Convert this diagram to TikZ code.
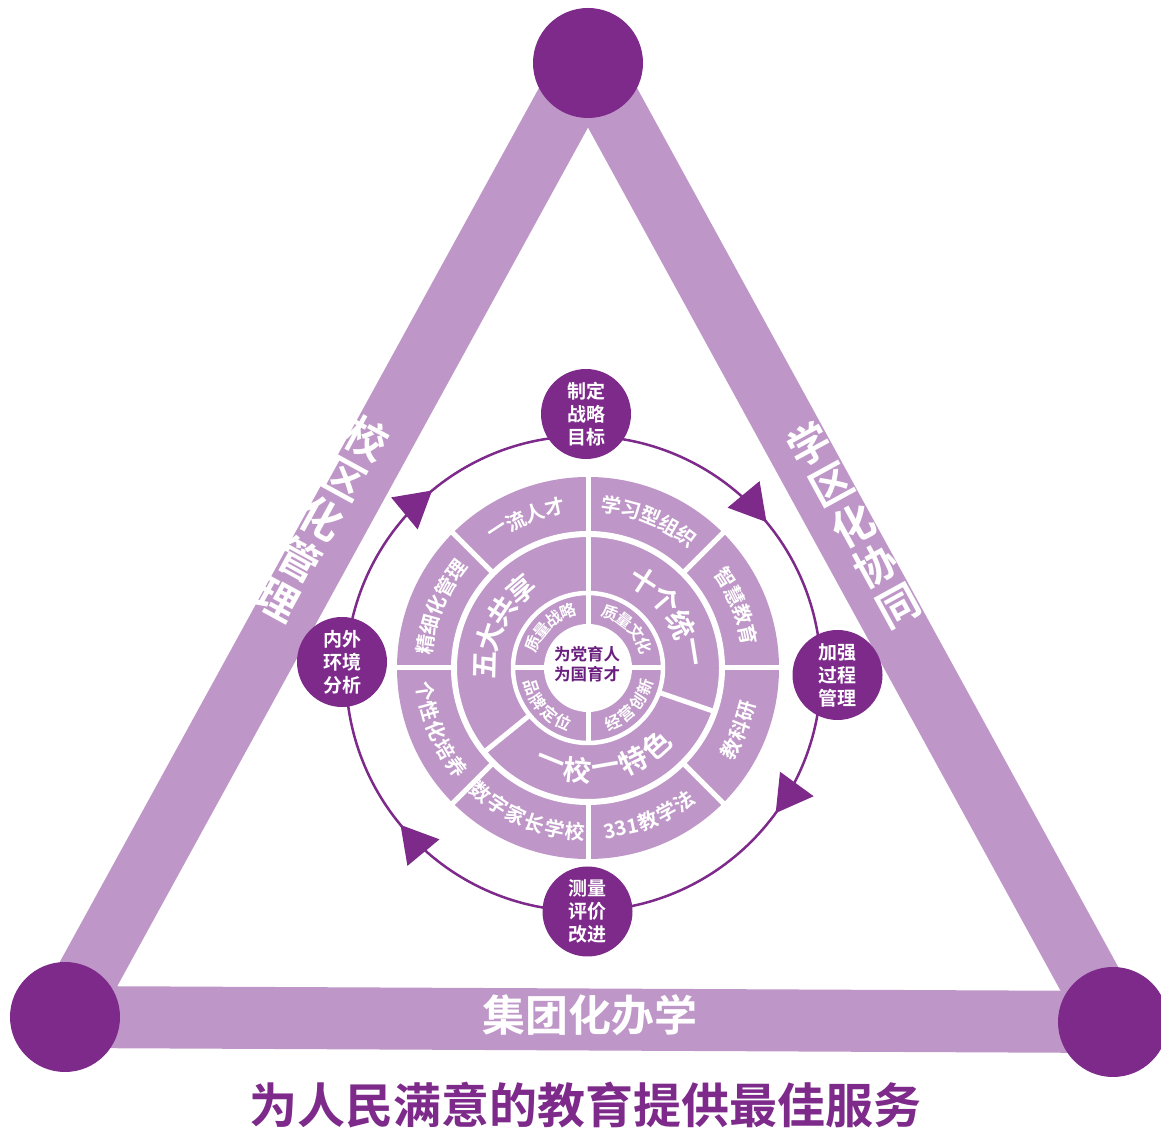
\documentclass[tikz,border=0pt]{standalone}
\usepackage{fontspec}
\setmainfont{Noto Sans CJK SC}[BoldFont={Noto Sans CJK SC Bold}]
\usetikzlibrary{arrows.meta,decorations.markings}

\definecolor{lilac}{HTML}{BE96C7}
\definecolor{plum}{HTML}{7D2A8B}
\definecolor{plumtext}{HTML}{6A1F7E}

\tikzstyle{apex}=[circle, fill=plum, minimum size=110pt, inner sep=0pt]
\tikzstyle{band}=[line width=62pt, lilac]
\tikzstyle{bandtxt}=[text=white, inner sep=0pt, align=center, font=\bfseries\fontsize{42}{46}\selectfont]
\tikzstyle{stage}=[circle, fill=plum, minimum size=90pt, inner sep=0pt, align=center, text=white, font=\bfseries\fontsize{19}{23}\selectfont]
\tikzset{%
    divider/.style={white, line width=5pt},
    flow/.style={plum, line width=2.5pt, postaction={decorate},
        decoration={markings, mark=at position #1 with {\arrow{Triangle[width=41pt,length=36pt]}}}},
}
% characters on an arc: name, radius, centre angle, step, count, list
\newcommand{\cwtext}[6]{%
  \foreach \ch [count=\i from 0] in {#6}{
    \pgfmathsetmacro{\ang}{#3+(#5-1)*#4/2-\i*#4}
    \node[rotate=\ang-90] (#1-\i) at (\ang:#2) {\ch};
  }}
\newcommand{\ccwtext}[6]{%
  \foreach \ch [count=\i from 0] in {#6}{
    \pgfmathsetmacro{\ang}{#3-(#5-1)*#4/2+\i*#4}
    \node[rotate=\ang+90] (#1-\i) at (\ang:#2) {\ch};
  }}

\begin{document}
\begin{tikzpicture}[x=1pt,y=1pt]
    \useasboundingbox (0,0) rectangle (1161,1129);
    % triangle of the three ways
    \coordinate (T) at (588,1066);
    \coordinate (L) at (65,112);
    \coordinate (R) at (1113,107);
    \draw[band] (T) -- (L);
    \draw[band] (T) -- (R);
    \draw[band] (L) -- (R);
    \node[apex] (apexT) at (T) {};
    \node[apex] (apexL) at (L) {};
    \node[apex] (apexR) at (R) {};
    \node[bandtxt, rotate=-28.7] (leftlbl) at (322.5,611) {校\\区\\化\\管\\理};
    \node[bandtxt, rotate=28.7] (rightlbl) at (853.5,604) {学\\区\\化\\协\\同};
    \node[bandtxt, font=\bfseries\fontsize{43}{43}\selectfont] (baselbl) at (590,114) {集团化办学};

    % the wheel
    \begin{scope}[shift={(588,461)}]
        \fill[lilac] (0,0) circle (191);
        \draw[white, line width=6pt] (0,0) circle (134);
        \draw[white, line width=4.5pt] (0,0) circle (75);
        \fill[white] (0,0) circle (44);
        \foreach \a in {0,45,...,315} \draw[divider] (\a:134) -- (\a:193);
        \foreach \a in {90,-19,-141} \draw[divider] (\a:75) -- (\a:134);
        \foreach \a in {0,90,180,270} \draw[divider] (\a:43) -- (\a:75);
        \begin{scope}[every node/.style={text=white, inner sep=0pt, font=\bfseries\fontsize{20}{20}\selectfont}]
            \cwtext{o1}{164}{112.5}{7.2}{4}{一,流,人,才}
            \cwtext{o2}{164}{67.5}{7.2}{5}{学,习,型,组,织}
            \cwtext{o3}{164}{22.5}{7.2}{4}{智,慧,教,育}
            \ccwtext{o4}{164}{337.5}{7.2}{3}{教,科,研}
            \node[rotate=371.7] (o5-0) at (281.7:164) {331};
            \ccwtext{o5b}{164}{298.6}{7.2}{3}{教,学,法}
            \ccwtext{o6}{164}{247.5}{7.2}{6}{数,字,家,长,学,校}
            \ccwtext{o7}{164}{202.5}{7.2}{5}{个,性,化,培,养}
            \cwtext{o8}{164}{157.5}{7.2}{5}{精,细,化,管,理}
        \end{scope}
        \begin{scope}[every node/.style={text=white, inner sep=0pt, font=\bfseries\fontsize{28}{28}\selectfont}]
            \cwtext{m1}{103}{154.5}{16}{4}{五,大,共,享}
            \cwtext{m2}{103}{33}{16}{4}{十,个,统,一}
            \ccwtext{m3}{103}{-80}{16}{5}{一,校,一,特,色}
        \end{scope}
        \begin{scope}[every node/.style={text=white, inner sep=0pt, font=\bfseries\fontsize{16}{16}\selectfont}]
            \cwtext{i1}{60}{133}{15.5}{4}{质,量,战,略}
            \cwtext{i2}{60}{45}{15.5}{4}{质,量,文,化}
            \ccwtext{i3}{60}{-42}{15.5}{4}{经,营,创,新}
            \ccwtext{i4}{60}{222}{15.5}{4}{品,牌,定,位}
        \end{scope}
        \node[text=plumtext, align=center, inner sep=0pt, font=\bfseries\fontsize{16.5}{20}\selectfont] (core) at (-1,4) {为党育人\\为国育才};
    \end{scope}

    % management cycle
    \coordinate (hub) at (583.5,455.5);
    \draw[flow=0.56] ([shift={(90:237.5)}]hub) arc[start angle=90, end angle=0, radius=237.5];
    \draw[flow=0.40] ([shift={(0:237.5)}]hub) arc[start angle=0, end angle=-90, radius=237.5];
    \draw[flow=0.56] ([shift={(-90:237.5)}]hub) arc[start angle=-90, end angle=-180, radius=237.5];
    \draw[flow=0.56] ([shift={(180:237.5)}]hub) arc[start angle=180, end angle=90, radius=237.5];
    \node[stage] (goal) at (586,715) {制定\\战略\\目标};
    \node[stage] (process) at (837.5,454) {加强\\过程\\管理};
    \node[stage] (review) at (587.5,217.5) {测量\\评价\\改进};
    \node[stage] (scan) at (342,467) {内外\\环境\\分析};

    \node[text=plum, inner sep=0pt, font=\bfseries\fontsize{48}{48}\selectfont] (motto) at (585,24) {为人民满意的教育提供最佳服务};
\end{tikzpicture}
\end{document}
